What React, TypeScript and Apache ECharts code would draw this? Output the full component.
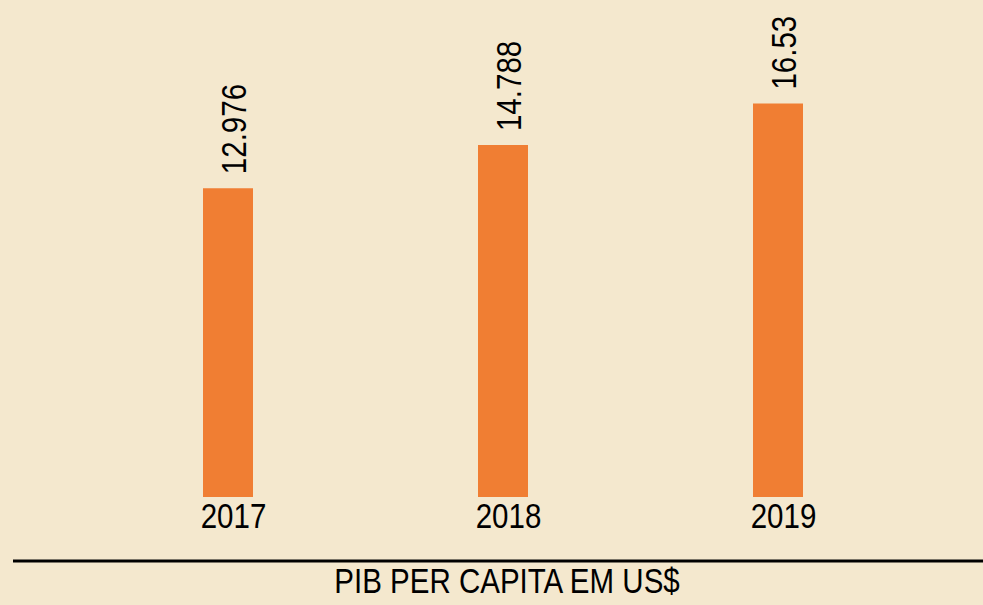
import React, { useEffect, useRef } from "react";
import * as echarts from "echarts";

const categories = ["2017", "2018", "2019"];
const values = [12.976, 14.788, 16.53];
const valueLabels = ["12.976", "14.788", "16.53"];
const chartTitle = "PIB PER CAPITA EM US$";

const FONT = "'Liberation Sans', Arial, sans-serif";
const NARROW = 0.82;

export default function App() {
  const ref = useRef<HTMLDivElement>(null);
  useEffect(() => {
    if (!ref.current) return;
    const chart = echarts.init(ref.current, null, { renderer: "svg" });
    chart.setOption({
      animation: false,
      backgroundColor: "#F4E8CE",
      grid: { left: 90.5, right: 67.5, top: 21, bottom: 108, containLabel: false },
      xAxis: {
        type: "category",
        data: categories,
        axisLine: { show: false },
        axisTick: { show: false },
        axisLabel: { show: false },
      },
      yAxis: {
        type: "value",
        min: 0,
        max: 20,
        show: false,
        splitLine: { show: false },
      },
      series: [
        {
          type: "bar",
          data: values,
          barWidth: 50,
          itemStyle: { color: "#F07E33" },
          label: { show: false },
        },
      ],
    });

    const graphics: any[] = [];
    categories.forEach((cat, i) => {
      const top = chart.convertToPixel({ xAxisIndex: 0, yAxisIndex: 0 }, [i, values[i]]) as number[];
      const base = chart.convertToPixel({ xAxisIndex: 0, yAxisIndex: 0 }, [i, 0]) as number[];
      // year label below bar
      graphics.push({
        type: "text",
        x: base[0] + 5.5,
        y: base[1] + 18.5,
        scaleX: NARROW,
        style: {
          text: cat,
          fontSize: 36,
          fontFamily: FONT,
          fill: "#000",
          textAlign: "center",
          textVerticalAlign: "middle",
        },
      });
      // rotated value label above bar
      graphics.push({
        type: "text",
        x: top[0] + 5.5,
        y: top[1] - 14,
        rotation: Math.PI / 2,
        scaleX: NARROW,
        style: {
          text: valueLabels[i],
          fontSize: 36,
          fontFamily: FONT,
          fill: "#000",
          textAlign: "left",
          textVerticalAlign: "middle",
        },
      });
    });
    graphics.push(
      {
        type: "line",
        shape: { x1: 13, y1: 561, x2: 983, y2: 561 },
        style: { stroke: "#000", lineWidth: 3 },
      },
      {
        type: "text",
        x: 507,
        y: 580.5,
        scaleX: NARROW,
        style: {
          text: chartTitle,
          fontSize: 36,
          fontFamily: FONT,
          fill: "#000",
          textAlign: "center",
          textVerticalAlign: "middle",
        },
      }
    );
    chart.setOption({ graphic: graphics });
    return () => chart.dispose();
  }, []);
  return (
    <div
      ref={ref}
      style={{ position: "absolute", left: 0, top: 0, width: 983, height: 605 }}
    />
  );
}
